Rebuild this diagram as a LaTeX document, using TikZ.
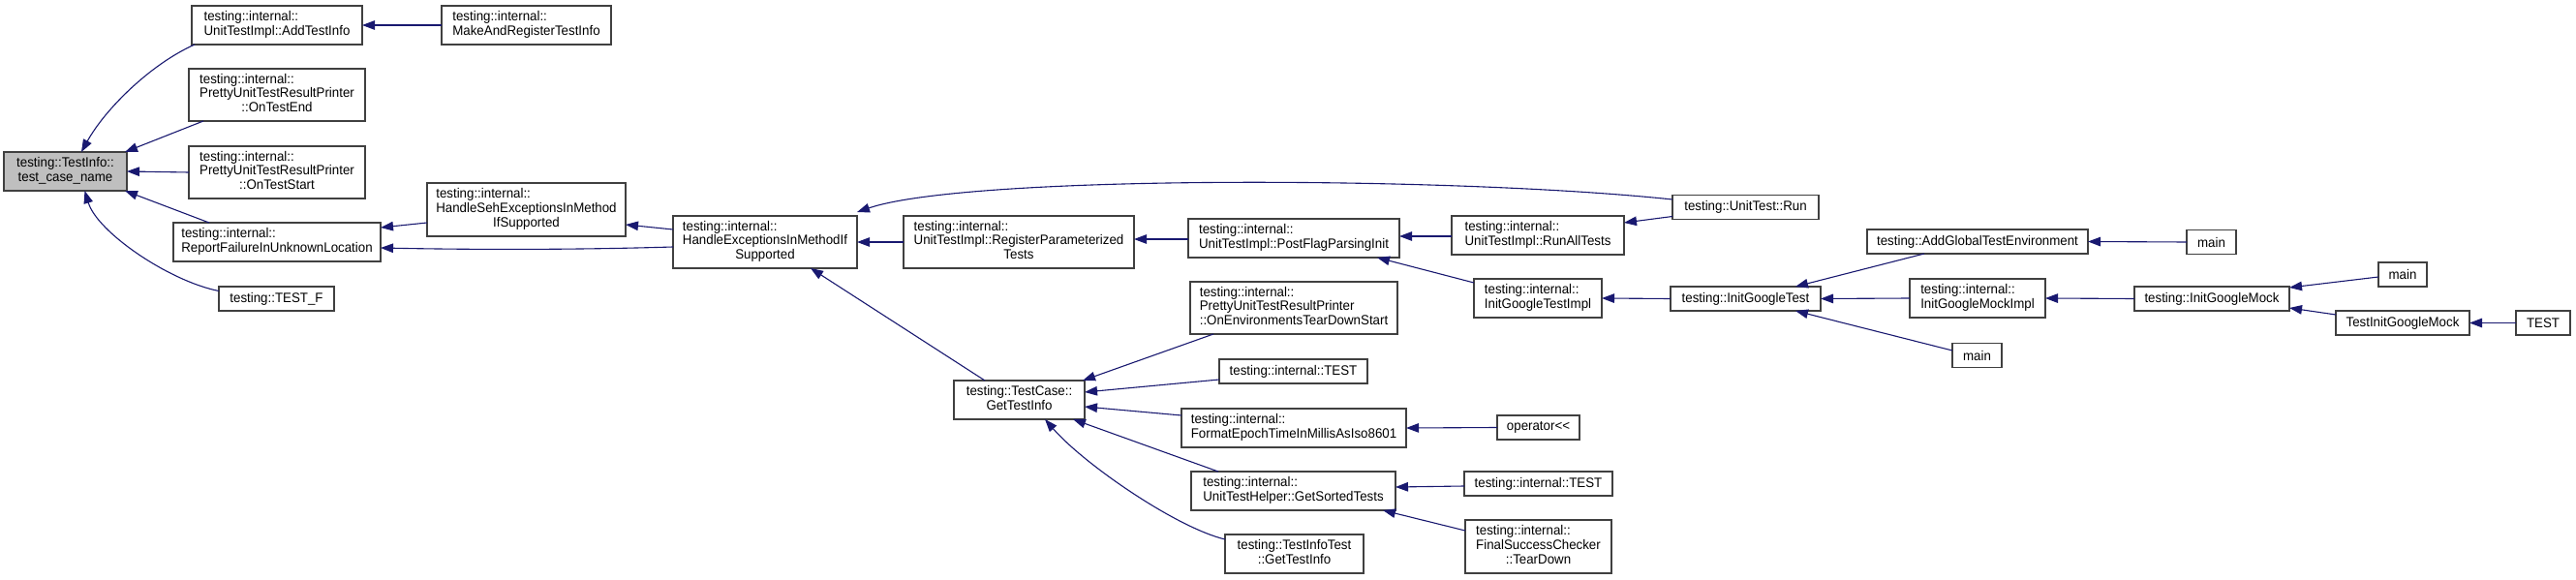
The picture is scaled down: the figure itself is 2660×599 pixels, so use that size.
\documentclass[tikz,border=0pt]{standalone}
\usepackage{fontspec}
\setmainfont[FakeStretch=0.95]{Liberation Sans}
\usetikzlibrary{arrows.meta}
\definecolor{edgec}{HTML}{191970}
\definecolor{nodeb}{HTML}{404040}
\definecolor{grayf}{HTML}{BFBFBF}
\newcommand{\mylines}[2]{\begin{tabular}{@{}l@{}}#1\\\multicolumn{1}{@{}c@{}}{#2}\end{tabular}}
\tikzset{
  nb/.style={rectangle, draw=nodeb, line width=1.3pt, fill=white, inner sep=0pt, outer sep=0pt,
    font=\fontsize{14}{14.7}\selectfont, align=center},
  hl/.style={fill=grayf},
  edge/.style={draw=edgec, line width=1.1pt, -{Triangle[length=13pt,width=9.5pt]}},
}
\begin{document}
\begin{tikzpicture}[x=1pt,y=-1pt]
\useasboundingbox[fill=white] (0,0) rectangle (2660,599);
% nodes
\node[nb,hl,minimum width=127pt,minimum height=40pt] (tcn) at (67.5,177) {\mylines{testing::TestInfo::}{test\_case\_name}};
\node[nb,minimum width=176pt,minimum height=40pt] (add) at (286,26) {\mylines{testing::internal::}{UnitTestImpl::AddTestInfo}};
\node[nb,minimum width=175pt,minimum height=40pt] (make) at (543.5,26) {\mylines{testing::internal::}{MakeAndRegisterTestInfo}};
\node[nb,minimum width=182pt,minimum height=54pt] (tend) at (286,98) {\mylines{testing::internal::\\PrettyUnitTestResultPrinter}{::OnTestEnd}};
\node[nb,minimum width=182pt,minimum height=54pt] (tstart) at (286,178) {\mylines{testing::internal::\\PrettyUnitTestResultPrinter}{::OnTestStart}};
\node[nb,minimum width=214pt,minimum height=40pt] (report) at (286,250) {\mylines{testing::internal::}{ReportFailureInUnknownLocation}};
\node[nb,minimum width=119pt,minimum height=25pt] (testf) at (285.5,308.5) {testing::TEST\_F};
\node[nb,minimum width=205pt,minimum height=55pt] (seh) at (543.5,216.5) {\mylines{testing::internal::\\HandleSehExceptionsInMethod}{IfSupported}};
\node[nb,minimum width=190pt,minimum height=54pt] (hexc) at (790,250) {\mylines{testing::internal::\\HandleExceptionsInMethodIf}{Supported}};
\node[nb,minimum width=238pt,minimum height=54pt] (regp) at (1052,250) {\mylines{testing::internal::\\UnitTestImpl::RegisterParameterized}{Tests}};
\node[nb,minimum width=218pt,minimum height=40pt] (post) at (1336,246) {\mylines{testing::internal::}{UnitTestImpl::PostFlagParsingInit}};
\node[nb,minimum width=178pt,minimum height=40pt] (runall) at (1588,243) {\mylines{testing::internal::}{UnitTestImpl::RunAllTests}};
\node[nb,minimum width=151pt,minimum height=25pt] (run) at (1802.5,214) {testing::UnitTest::Run};
\node[nb,minimum width=132pt,minimum height=40pt] (igti) at (1588,308) {\mylines{testing::internal::}{InitGoogleTestImpl}};
\node[nb,minimum width=155pt,minimum height=25pt] (igt) at (1802.5,308.5) {testing::InitGoogleTest};
\node[nb,minimum width=228pt,minimum height=25pt] (addg) at (2042,249.5) {testing::AddGlobalTestEnvironment};
\node[nb,minimum width=51pt,minimum height=25pt] (mainA) at (2283.5,250) {main};
\node[nb,minimum width=140pt,minimum height=40pt] (igmi) at (2042,308) {\mylines{testing::internal::}{InitGoogleMockImpl}};
\node[nb,minimum width=51pt,minimum height=25pt] (mainC) at (2041.5,367) {main};
\node[nb,minimum width=160pt,minimum height=25pt] (igm) at (2284,308.5) {testing::InitGoogleMock};
\node[nb,minimum width=50pt,minimum height=25pt] (mainB) at (2481,283.5) {main};
\node[nb,minimum width=138pt,minimum height=25pt] (tigm) at (2481,333.5) {TestInitGoogleMock};
\node[nb,minimum width=56pt,minimum height=25pt] (ttest) at (2626,333.5) {TEST};
\node[nb,minimum width=135pt,minimum height=40pt] (gti) at (1052.5,413) {\mylines{testing::TestCase::}{GetTestInfo}};
\node[nb,minimum width=214pt,minimum height=54pt] (envtd) at (1336,318) {\mylines{testing::internal::\\PrettyUnitTestResultPrinter}{::OnEnvironmentsTearDownStart}};
\node[nb,minimum width=153pt,minimum height=25pt] (itestA) at (1335.5,383.5) {testing::internal::TEST};
\node[nb,minimum width=232pt,minimum height=40pt] (fmt) at (1336,442) {\mylines{testing::internal::}{FormatEpochTimeInMillisAsIso8601}};
\node[nb,minimum width=85pt,minimum height=25pt] (oper) at (1588.5,441.5) {operator{<}{<}};
\node[nb,minimum width=211pt,minimum height=40pt] (sorted) at (1335.5,507) {\mylines{testing::internal::}{UnitTestHelper::GetSortedTests}};
\node[nb,minimum width=153pt,minimum height=25pt] (itestB) at (1588.5,499.5) {testing::internal::TEST};
\node[nb,minimum width=151pt,minimum height=55pt] (final) at (1588.5,564.5) {\mylines{testing::internal::\\FinalSuccessChecker}{::TearDown}};
\node[nb,minimum width=143pt,minimum height=40pt] (tit) at (1336.5,572) {\mylines{testing::TestInfoTest}{::GetTestInfo}};
% edges (arrow at callee)
\draw[edge] ([xshift=3pt]add.south west) .. controls +(-45,20) and +(25,-45) .. ([xshift=16.5pt]tcn.north);
\draw[edge] ([xshift=15pt]tend.south west) -- ([xshift=-2pt]tcn.north east);
\draw[edge] (tstart.west) -- (tcn.east);
\draw[edge] ([xshift=37pt]report.north west) -- ([xshift=-2pt]tcn.south east);
\draw[edge] ([yshift=8pt]testf.west) .. controls +(-51,-10) and +(13,43) .. ([xshift=20pt]tcn.south);
\draw[edge] (make.west) -- (add.east);
\draw[edge] ([yshift=-13.5pt]seh.west) -- ([yshift=15pt]report.east);
\draw[edge] ([yshift=-5pt]hexc.west) .. controls +(-100,3) and +(100,2) .. ([yshift=-6pt]report.east);
\draw[edge] ([yshift=13pt]hexc.west) -- ([yshift=-15.5pt]seh.east);
\draw[edge] ([yshift=8pt]run.west) .. controls +(-227,-24) and +(115,-39) .. ([yshift=4pt]hexc.north east);
\draw[edge] (regp.west) -- (hexc.east);
\draw[edge] ([xshift=-35.5pt]gti.north) -- ([xshift=47pt]hexc.south);
\draw[edge] ([yshift=-1pt]post.west) -- ([yshift=3pt]regp.east);
\draw[edge] ([yshift=-1pt]runall.west) -- ([yshift=2pt]post.east);
\draw[edge] ([yshift=-4pt]igti.north west) -- ([xshift=-23pt]post.south east);
\draw[edge] ([yshift=3pt]run.south west) -- ([yshift=13pt]runall.east);
\draw[edge] (igt.west) -- (igti.east);
\draw[edge] ([xshift=-55pt]addg.south) -- ([xshift=-26pt]igt.north east);
\draw[edge] (igmi.west) -- (igt.east);
\draw[edge] ([yshift=5pt]mainC.west) -- ([xshift=-26pt]igt.south east);
\draw[edge] (mainA.west) -- (addg.east);
\draw[edge] (igm.west) -- (igmi.east);
\draw[edge] ([yshift=-2.5pt]mainB.west) -- ([yshift=11.5pt]igm.east);
\draw[edge] ([yshift=8.5pt]tigm.west) -- ([yshift=-9.5pt]igm.east);
\draw[edge] (ttest.west) -- (tigm.east);
\draw[edge] ([xshift=24pt]envtd.south west) -- ([xshift=-2pt]gti.north east);
\draw[edge] ([yshift=-8.5pt]itestA.west) -- ([yshift=8pt]gti.east);
\draw[edge] ([yshift=13pt]fmt.west) -- ([yshift=-7pt]gti.east);
\draw[edge] ([xshift=28pt]sorted.north west) -- ([xshift=-12pt]gti.south east);
\draw[edge] ([yshift=15pt]tit.west) .. controls +(-50,-12) and +(41,47) .. ([xshift=26.5pt]gti.south);
\draw[edge] (oper.west) -- (fmt.east);
\draw[edge] ([yshift=-2.5pt]itestB.west) -- ([yshift=4pt]sorted.east);
\draw[edge] ([yshift=-11pt]final.north west) -- ([xshift=-13pt]sorted.south east);
\end{tikzpicture}
\end{document}
